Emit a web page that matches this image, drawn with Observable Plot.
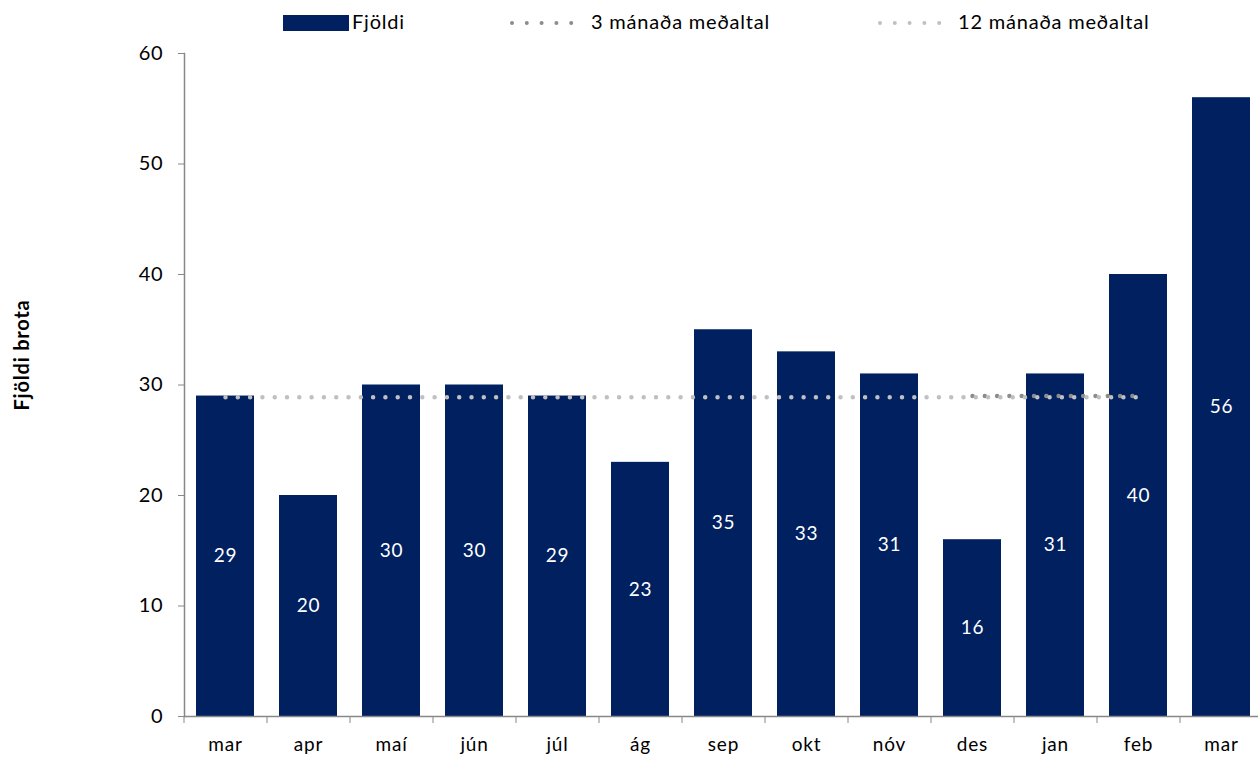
<!DOCTYPE html>
<html><head><meta charset="utf-8">
<script src="https://cdn.jsdelivr.net/npm/d3@7"></script>
<script src="https://cdn.jsdelivr.net/npm/@observablehq/plot@0.6"></script>
<style>
body{margin:0;background:#fff;font-family:Lato,"Open Sans",sans-serif;}
#legend{position:relative;height:40px;width:1258px;font-size:20px;letter-spacing:0.8px;color:#000;}
#legend .it{position:absolute;top:8px;line-height:26px;white-space:nowrap;}
#legend .sw{position:absolute;top:15px;width:66px;height:16px;background:#002060;}
#legend svg{position:absolute;top:15px;}
#chart svg text{letter-spacing:0.8px;}
</style></head><body>
<div id="legend"></div>
<div id="chart"></div>
<script>
const months = ["mar","apr","maí","jún","júl","ág","sep","okt","nóv","des","jan","feb","mar"];
const counts = [29,20,30,30,29,23,35,33,31,16,31,40,56];
const avg3Index = [9,10,11];
const avg3 = [29.0,29.0,29.0];
const avg12Index = [0,1,2,3,4,5,6,7,8,9,10,11];
const avg12 = [28.9,28.9,28.9,28.9,28.9,28.9,28.9,28.9,28.9,28.9,28.9,28.9];
const yTicks = [0,10,20,30,40,50,60];
const seriesNames = ["Fjöldi","3 mánaða meðaltal","12 mánaða meðaltal"];
const yTitle = "Fjöldi brota";

const barColor = "#002060", c3 = "#8c8c8c", c12 = "#c0c0c0", axisColor = "#888";
const bars = counts.map((v,i)=>({i, v}));
const l3 = avg3Index.map((i,k)=>({i, v: avg3[k]}));
const l12 = avg12Index.map((i,k)=>({i, v: avg12[k]}));
const xRange = [184, 1263];
const step = (xRange[1]-xRange[0]) / months.length;
const dotStyle = {strokeWidth: 4.5, strokeDasharray: "0 12.3", strokeLinecap: "round"};

// legend
const lg = document.getElementById("legend");
function dots(x, color){
  return `<svg style="left:${x}px" width="82" height="16"><line x1="4" x2="78" y1="8" y2="8" stroke="${color}" stroke-width="4" stroke-linecap="round" stroke-dasharray="0 14.8"/></svg>`;
}
lg.innerHTML = `<div class="sw" style="left:283px"></div><div class="it" style="left:352px">${seriesNames[0]}</div>`
 + dots(508, c3) + `<div class="it" style="left:591px">${seriesNames[1]}</div>`
 + dots(876, c12) + `<div class="it" style="left:958px">${seriesNames[2]}</div>`;

const chart = Plot.plot({
  width: 1258, height: 718,
  marginTop: 13, marginBottom: 42, marginLeft: 184, marginRight: 0,
  style: {fontFamily: "Lato, 'Open Sans', sans-serif", color: "#000", background: "#fff"},
  x: {type: "band", domain: d3.range(months.length), range: xRange, paddingInner: 0.3, paddingOuter: 0.15},
  y: {domain: [0, 60]},
  marks: [
    Plot.barY(bars, {x: "i", y: "v", fill: barColor}),
    Plot.text(bars, {x: "i", y: d => d.v/2, text: d => String(d.v), fill: "white", fontSize: 19}),
    Plot.lineY(l3, {x: "i", y: "v", stroke: c3, ...dotStyle}),
    Plot.lineY(l12, {x: "i", y: "v", stroke: c12, ...dotStyle}),
    Plot.ruleY([0], {stroke: axisColor, strokeWidth: 1.5}),
    Plot.frame({anchor: "left", stroke: axisColor, strokeWidth: 1.5}),
    Plot.axisY({ticks: yTicks, tickSize: 6, tickPadding: 15, fontSize: 20, stroke: axisColor, label: null}),
    Plot.axisX({tickSize: 7, dx: -step/2, tickFormat: () => "", stroke: axisColor, label: null}),
    Plot.axisX({tickSize: 0, tickPadding: 21, tickFormat: i => months[i], fontSize: 19, label: null}),
    Plot.text([yTitle], {text: d => d, frameAnchor: "left", textAnchor: "middle", dx: -162, dy: -30, rotate: -90, fontWeight: "bold", fontSize: 20})
  ]
});
document.getElementById("chart").appendChild(chart);
</script>
</body></html>
